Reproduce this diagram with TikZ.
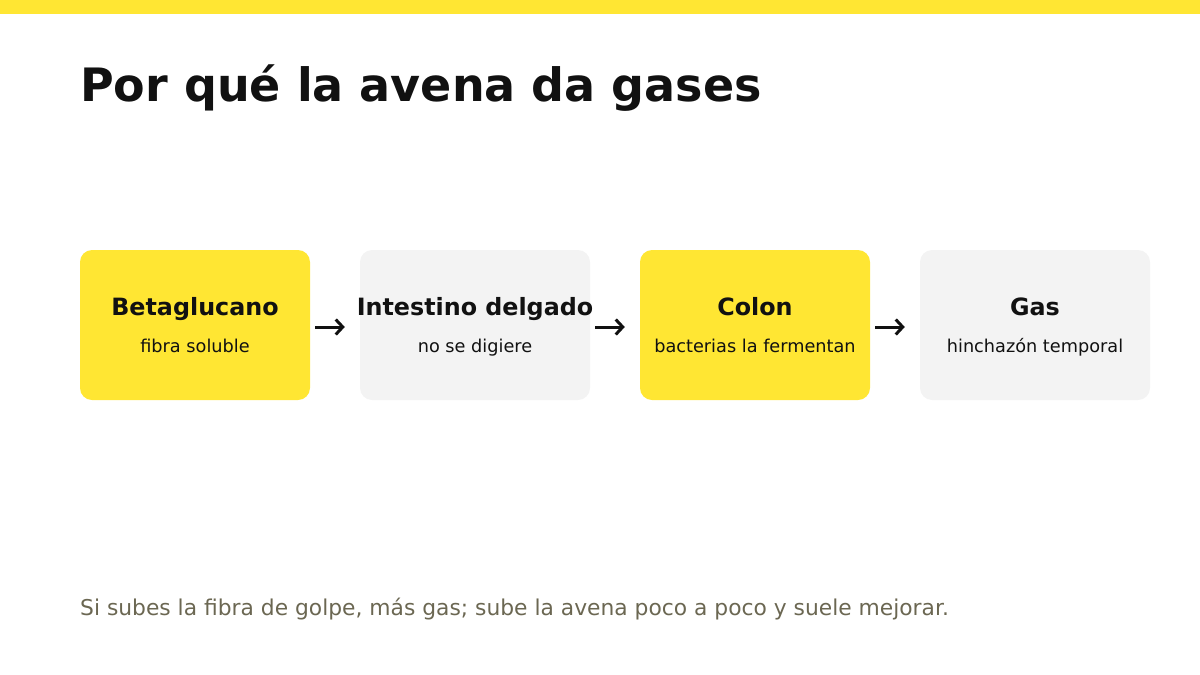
\documentclass[tikz,border=0pt]{standalone}
\usepackage{fontspec}
\setmainfont{DejaVu Sans}
\usetikzlibrary{arrows.meta}
\definecolor{avyellow}{HTML}{FFE633}
\definecolor{avgray}{HTML}{F3F3F3}
\definecolor{avink}{HTML}{111111}
\definecolor{avnote}{HTML}{6B6752}
\tikzset{
  stepbox/.style={rounded corners=12pt, minimum width=230pt, minimum height=150pt, inner sep=0pt},
  head/.style={anchor=base, font=\fontsize{23.8}{28}\selectfont\bfseries, text=avink, inner sep=0pt},
  sub/.style={anchor=base, font=\fontsize{17.7}{21}\selectfont, text=avink, inner sep=0pt},
  flow/.style={line width=3pt, avink, -{Straight Barb[length=7pt,width=15pt]}, shorten <=5pt, shorten >=15pt}
}
\begin{document}
\begin{tikzpicture}[x=1pt,y=-1pt]
\useasboundingbox (0,0) rectangle (1200,675);
\fill [avyellow] (0,0) rectangle (1200,14);
\node [anchor=base west, inner sep=0pt, text=avink, font=\fontsize{46}{52}\selectfont\bfseries] (title) at (80,101) {Por qué la avena da gases};
\node [stepbox, fill=avyellow] (beta) at (195,325) {};
\node [stepbox, fill=avgray] (intest) at (475,325) {};
\node [stepbox, fill=avyellow] (colon) at (755,325) {};
\node [stepbox, fill=avgray] (gas) at (1035,325) {};
\node [head] (betaH) at (195,315) {Betaglucano};
\node [sub] (betaS) at (195,352) {fibra soluble};
\node [head] (intestH) at (475,315) {Intestino delgado};
\node [sub] (intestS) at (475,352) {no se digiere};
\node [head] (colonH) at (755,315) {Colon};
\node [sub] (colonS) at (755,352) {bacterias la fermentan};
\node [head] (gasH) at (1035,315) {Gas};
\node [sub] (gasS) at (1035,352) {hinchazón temporal};
\draw [flow] ([yshift=-2pt]beta.east) -- ([yshift=-2pt]intest.west);
\draw [flow] ([yshift=-2pt]intest.east) -- ([yshift=-2pt]colon.west);
\draw [flow] ([yshift=-2pt]colon.east) -- ([yshift=-2pt]gas.west);
\node [anchor=base west, inner sep=0pt, text=avnote, font=\fontsize{21.8}{26}\selectfont] (note) at (80,615) {Si subes la fibra de golpe, más gas; sube la avena poco a poco y suele mejorar.};
\end{tikzpicture}
\end{document}
